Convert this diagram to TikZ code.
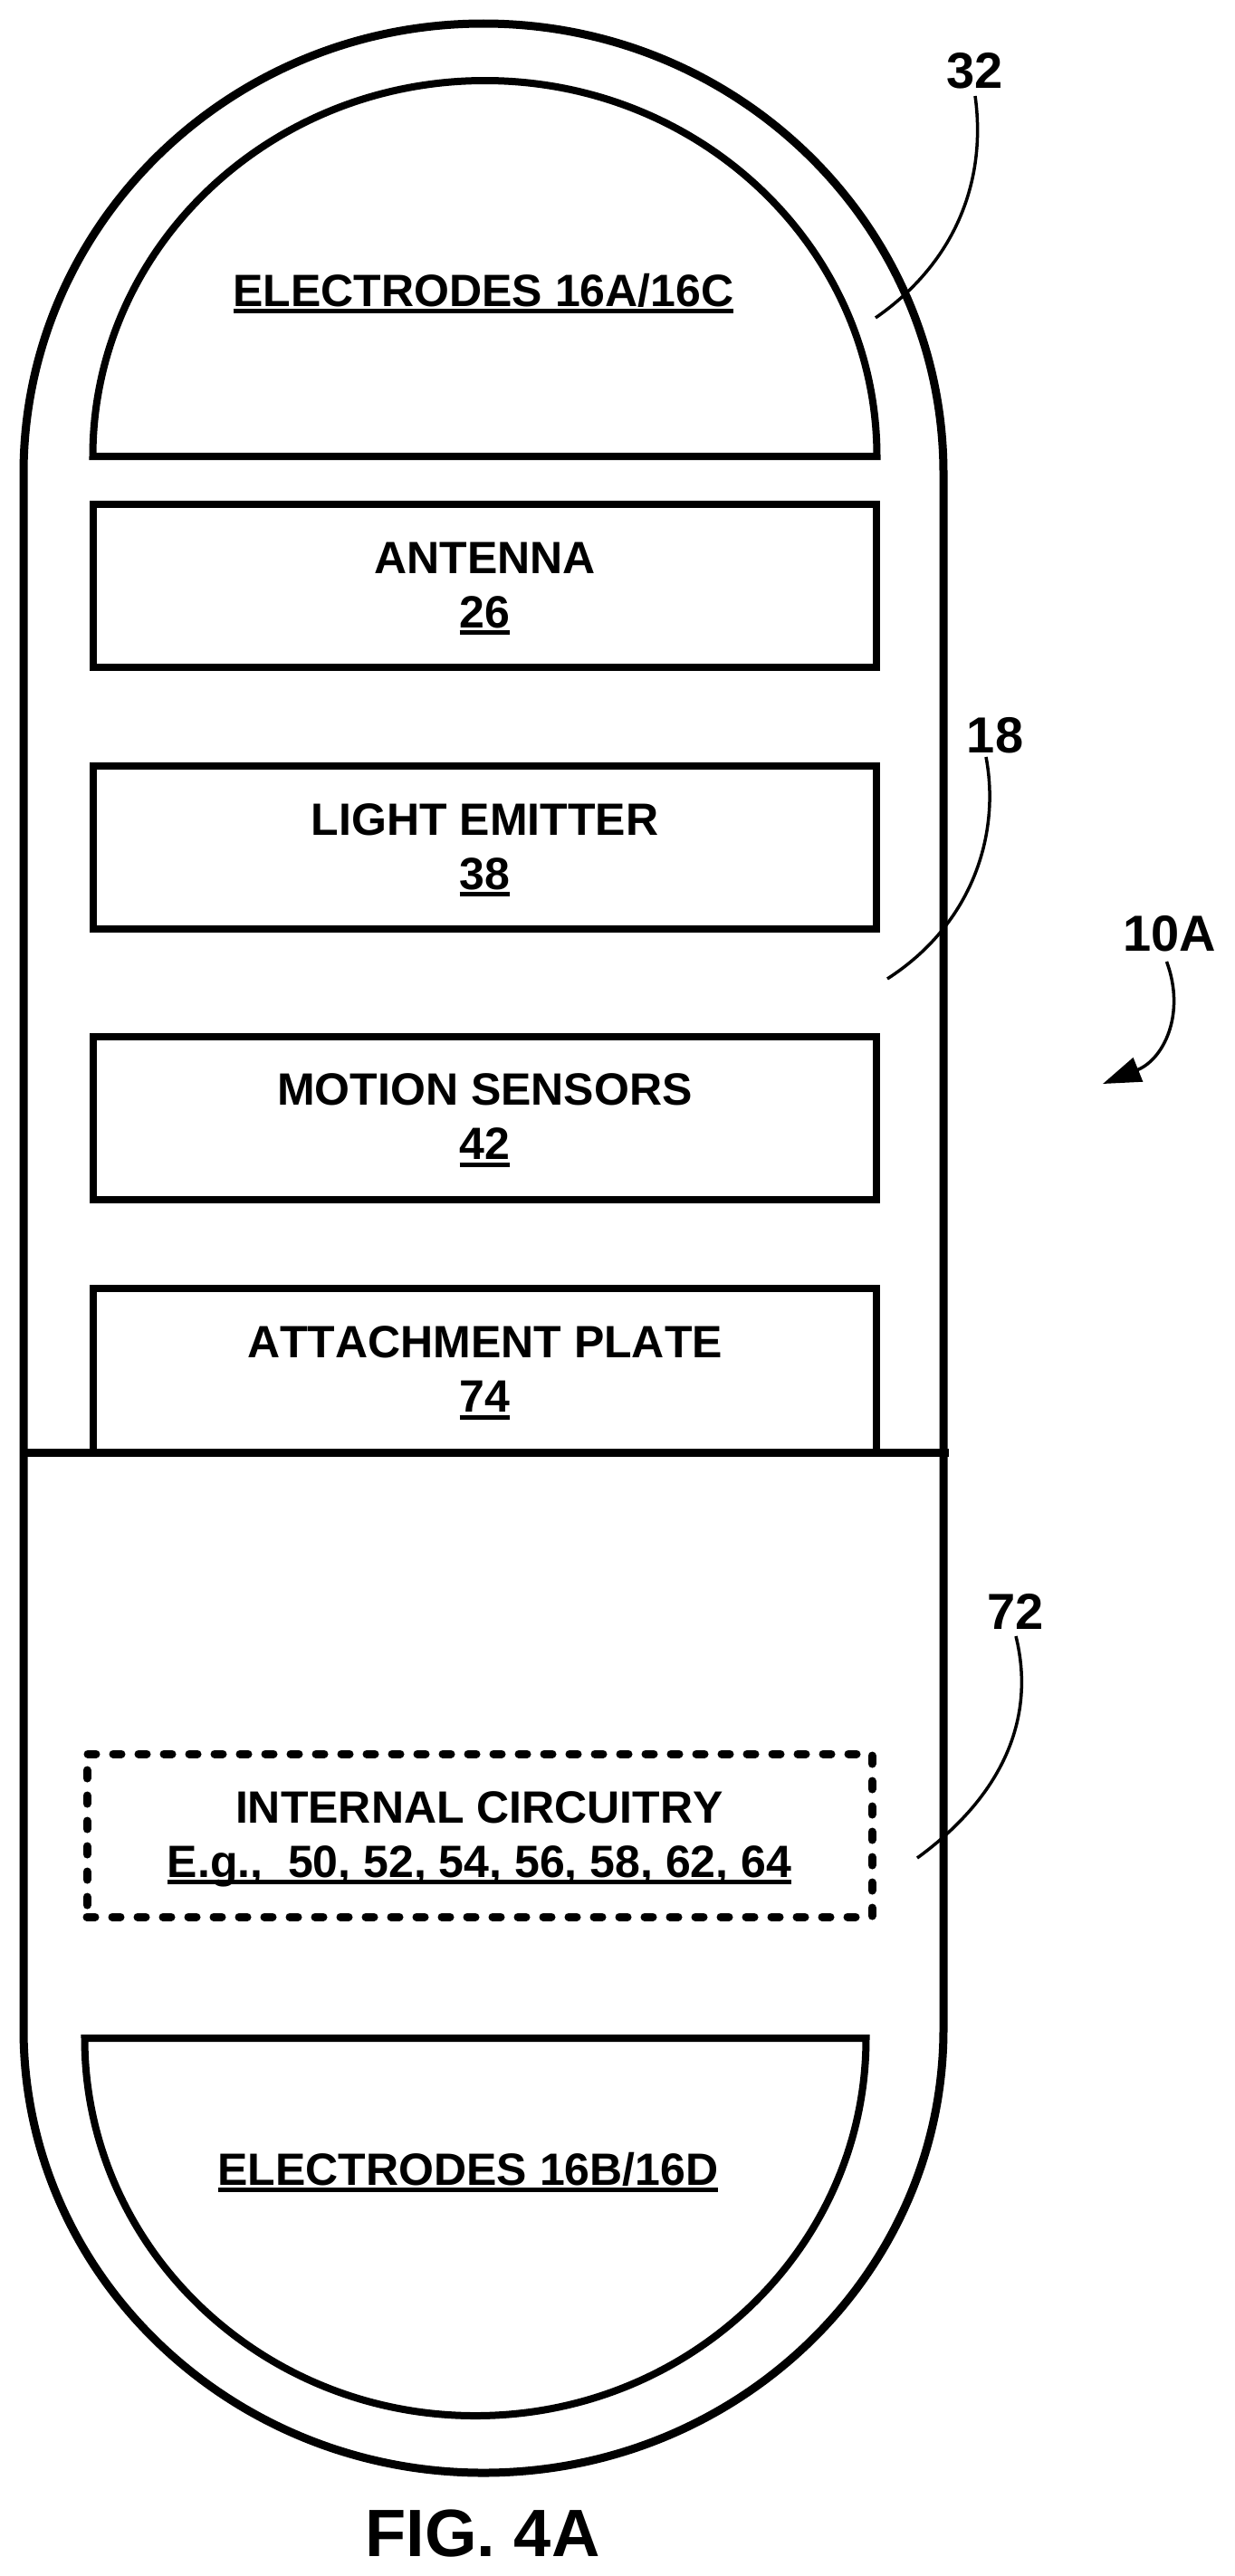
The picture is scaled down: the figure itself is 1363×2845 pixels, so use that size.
\documentclass[tikz,border=0pt]{standalone}
\usepackage{fontspec}
\setmainfont[Kerning=Off]{Liberation Sans}
\usetikzlibrary{arrows.meta,calc}
\newcommand{\ulin}[1]{\leavevmode\setbox0\hbox{#1}\rlap{\rule[-8pt]{\wd0}{5pt}}\box0}
\newcommand{\twol}[2]{\vbox{\offinterlineskip\halign{\hfil##\hfil\cr\vrule height40pt depth0pt width0pt\smash{#1}\cr\vrule height60pt depth8pt width0pt\smash{\ulin{#2}}\cr}}}
\tikzset{
  x=1pt,y=-1pt,
  every node/.style={font=\fontsize{50}{60}\selectfont\bfseries,inner sep=0pt,outer sep=0pt},
  shell/.style={draw=black,line width=9pt,fill=none},
  part/.style={draw=black,line width=8pt,line join=miter},
  panel/.style={part,rectangle,minimum width=865pt,minimum height=180pt,align=center},
  dashpanel/.style={draw=black,line width=9pt,line cap=round,dash pattern=on 9pt off 19pt,rectangle,minimum width=867pt,minimum height=180pt},
  plate/.style={rectangle,minimum width=865pt,minimum height=181pt},
  refnum/.style={font=\fontsize{56}{60}\selectfont\bfseries,anchor=base},
  leader/.style={draw=black,line width=3.5pt},
  figlabel/.style={font=\fontsize{74}{80}\selectfont\bfseries,anchor=base}
}
\begin{document}
\begin{tikzpicture}
\useasboundingbox (0,0) rectangle (1363,2845);
\fill[white] (0,0) rectangle (1363,2845);
% shell
\draw[shell] (26,523) arc[start angle=180,end angle=0,x radius=508pt,y radius=497pt]
  -- (1042,2241) arc[start angle=0,end angle=-180,x radius=508pt,y radius=490pt] -- cycle;
% electrodes
\draw[part] (102.5,504) arc[start angle=180,end angle=0,x radius=433pt,y radius=415pt] -- cycle;
\draw[part] (93.5,2251) arc[start angle=180,end angle=360,x radius=431.5pt,y radius=417pt] -- cycle;
\node[anchor=base] (etop) at (534,338) {\ulin{ELECTRODES 16A/16C}};
\node[anchor=base] (ebot) at (517,2413) {\ulin{ELECTRODES 16B/16D}};
% panels
\node[panel] (antenna) at (535.5,647) {\twol{ANTENNA}{26}};
\node[panel] (light) at (535.5,936) {\twol{LIGHT EMITTER}{38}};
\node[panel] (motion) at (535.5,1234.5) {\twol{MOTION SENSORS}{42}};
\node[plate] (attach) at (535.5,1513.5) {\twol{ATTACHMENT PLATE}{74}};
\draw[part] (attach.south west) -- (attach.north west) -- (attach.north east) -- (attach.south east);
\draw[shell] (22,1604) -- (1048,1604);
\node[dashpanel] (circ) at (529.5,2027) {\twol{INTERNAL CIRCUITRY}{E.g.,\ \ 50, 52, 54, 56, 58, 62, 64}};
% reference numerals
\node[refnum] (l32) at (1076.5,97) {32};
\node[refnum] (l18) at (1099,831) {18};
\node[refnum] (l10) at (1291.5,1050) {10A};
\node[refnum] (l72) at (1121.5,1799) {72};
\node[figlabel] (fig) at (533,2823) {FIG. 4A};
% free ends
\coordinate (e32) at (967,351);
\coordinate (e18) at (980,1081);
\coordinate (e72) at (1013,2052);
\coordinate (e10) at (1218,1197);
% leaders
\draw[leader] ($(l32.base)+(0.5,9)$) .. controls (1090,200) and (1055,290) .. (e32);
\draw[leader] ($(l18.base)+(-10,5)$) .. controls (1105,920) and (1075,1020) .. (e18);
\draw[leader] ($(l72.base)+(0.5,8)$) .. controls (1145,1900) and (1105,1985) .. (e72);
\draw[leader,-{Triangle[length=42pt,width=28pt]}] ($(l10.base)+(-3,12)$) .. controls (1310,1120) and (1285,1170) .. (e10);
\end{tikzpicture}
\end{document}
